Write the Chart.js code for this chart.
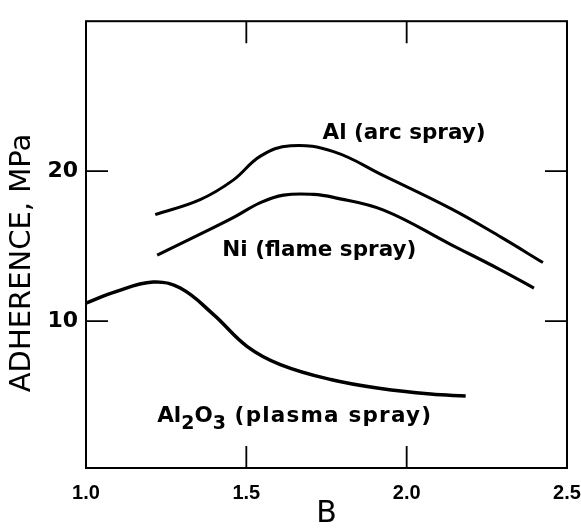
<!DOCTYPE html>
<html>
<head>
<meta charset="utf-8">
<script src="https://cdn.jsdelivr.net/npm/chart.js@4/dist/chart.umd.min.js"></script>
<style>
  html, body { margin: 0; padding: 0; background: #fff; }
  #wrap { width: 581px; height: 529px; }
</style>
</head>
<body>
<div id="wrap"><canvas id="chart"></canvas></div>
<script>
// B values and adherence (MPa)
const alArcB   = [1.216, 1.356, 1.459, 1.544, 1.638, 1.772, 1.928, 2.138, 2.294, 2.425];
const alArcMPa = [17.1, 18.1, 19.4, 21.0, 21.7, 21.3, 19.7, 17.5, 15.6, 13.9];

const niFlameB   = [1.222, 1.356, 1.459, 1.544, 1.616, 1.709, 1.772, 1.928, 2.138, 2.294, 2.397];
const niFlameMPa = [14.4, 15.8, 16.9, 17.9, 18.4, 18.45, 18.25, 17.4, 15.1, 13.4, 12.2];

const al2o3B   = [1.0, 1.084, 1.209, 1.294, 1.397, 1.503, 1.606, 1.763, 1.919, 2.075, 2.184];
const al2o3MPa = [11.2, 11.9, 12.6, 12.2, 10.45, 8.3, 7.1, 6.1, 5.5, 5.13, 5.0];

const xTicks = [1.0, 1.5, 2.0, 2.5];
const yTicks = [10, 20];

const toPts = (xs, ys) => xs.map((x, i) => ({ x, y: ys[i] }));

const lineStyle = (w) => ({
  borderColor: '#000',
  borderWidth: w,
  pointRadius: 0,
  fill: false,
  tension: 0.4
});

// frame, inward ticks, curve labels, y title
const framePlugin = {
  id: 'frame',
  afterDraw(chart) {
    const { ctx, chartArea: a, scales: { x, y } } = chart;
    ctx.save();
    ctx.strokeStyle = '#000';
    ctx.lineWidth = 2;
    ctx.strokeRect(a.left, a.top, a.right - a.left, a.bottom - a.top);

    const tl = 22;
    ctx.lineWidth = 1.8;
    ctx.beginPath();
    [1.5, 2.0].forEach(v => {
      const px = x.getPixelForValue(v);
      ctx.moveTo(px, a.bottom); ctx.lineTo(px, a.bottom - tl);
      ctx.moveTo(px, a.top); ctx.lineTo(px, a.top + tl);
    });
    yTicks.forEach(v => {
      const py = y.getPixelForValue(v);
      ctx.moveTo(a.left, py); ctx.lineTo(a.left + tl, py);
      ctx.moveTo(a.right, py); ctx.lineTo(a.right - tl, py);
    });
    ctx.stroke();

    ctx.fillStyle = '#000';
    ctx.textBaseline = 'middle';
    ctx.textAlign = 'left';
    const f = 'bold 21.5px "DejaVu Sans"';
    ctx.font = f;
    ctx.fillText('Al (arc spray)', x.getPixelForValue(1.7375), y.getPixelForValue(22.5));
    ctx.fillText('Ni (flame spray)', x.getPixelForValue(1.425), y.getPixelForValue(14.74));

    // Al2O3 with subscripts
    let px = x.getPixelForValue(1.222);
    const py = y.getPixelForValue(3.64);
    const sub = 'bold 19px "DejaVu Sans"';
    const parts = [['Al', f, 0, 0], ['2', sub, 8, 0], ['O', f, 0, 0], ['3', sub, 8, 0], [' (plasma spray)', f, 0, 1.2]];
    parts.forEach(([t, font, dy, ls]) => {
      ctx.font = font;
      ctx.letterSpacing = ls + 'px';
      ctx.fillText(t, px, py + dy);
      px += ctx.measureText(t).width;
    });
    ctx.letterSpacing = '0px';

    // y axis title
    ctx.translate(22, 263);
    ctx.rotate(-Math.PI / 2);
    ctx.textAlign = 'center';
    ctx.font = '29px "DejaVu Sans"';
    ctx.fillText('ADHERENCE, MPa', 0, 0);
    ctx.restore();
  }
};

new Chart(document.getElementById('chart'), {
  type: 'line',
  data: {
    datasets: [
      { label: 'Al (arc spray)', data: toPts(alArcB, alArcMPa), ...lineStyle(3) },
      { label: 'Ni (flame spray)', data: toPts(niFlameB, niFlameMPa), ...lineStyle(3.2) },
      { label: 'Al2O3 (plasma spray)', data: toPts(al2o3B, al2o3MPa), ...lineStyle(3.5) }
    ]
  },
  options: {
    responsive: true,
    maintainAspectRatio: false,
    animation: false,
    layout: { padding: { top: 9, right: 14, left: 0, bottom: 0 } },
    plugins: { legend: { display: false }, tooltip: { enabled: false } },
    scales: {
      x: {
        type: 'linear',
        min: 1.0,
        max: 2.5,
        afterBuildTicks: s => { s.ticks = xTicks.map(v => ({ value: v })); },
        afterFit: s => { s.height = 61; s.paddingLeft = 0; s.paddingRight = 0; },
        grid: { display: false, drawTicks: false },
        border: { display: false },
        ticks: {
          color: '#000',
          padding: 13,
          font: { family: 'Liberation Sans', size: 20, weight: 'bold' },
          callback: v => v.toFixed(1),
          maxRotation: 0
        },
        title: {
          display: true,
          text: 'B',
          color: '#000',
          padding: { top: 0, bottom: 0 },
          font: { family: 'DejaVu Sans', size: 30, lineHeight: 1.0 }
        }
      },
      y: {
        min: 0.2,
        max: 30,
        afterBuildTicks: s => { s.ticks = yTicks.map(v => ({ value: v })); },
        afterFit: s => { s.width = 86; },
        grid: { display: false, drawTicks: false },
        border: { display: false },
        ticks: {
          color: '#000',
          padding: 8,
          font: { family: 'DejaVu Sans', size: 22, weight: 'bold' }
        }
      }
    }
  },
  plugins: [framePlugin]
});
</script>
</body>
</html>
